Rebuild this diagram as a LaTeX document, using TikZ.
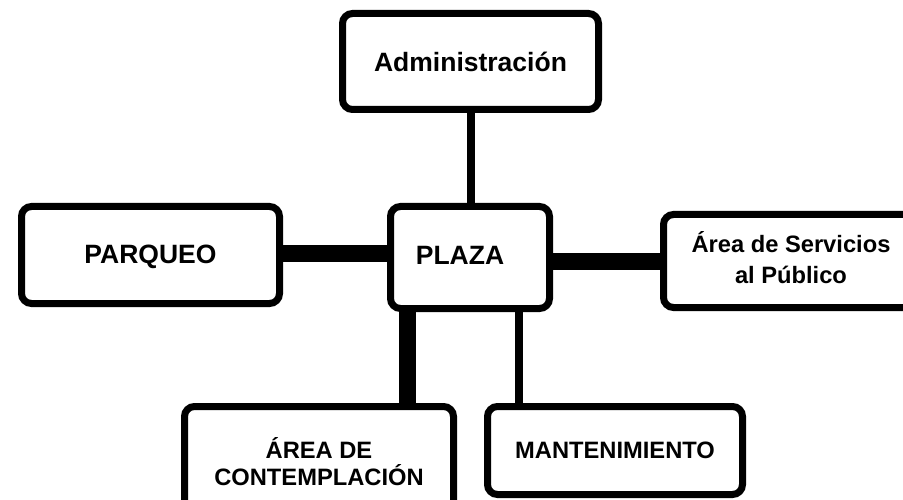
\documentclass[tikz,border=0pt]{standalone}
\usepackage{fontspec}
\setmainfont{Liberation Sans}
\begin{document}
\begin{tikzpicture}[x=1pt,y=-1pt,
  box/.style={draw=black, line width=7pt, rounded corners=10pt, fill=white, inner sep=0pt},
  bigtxt/.style={font=\bfseries\fontsize{26.5}{30}\selectfont},
  smalltxt/.style={font=\bfseries\fontsize{23.7}{31}\selectfont},
  thinconn/.style={line width=8pt},
  thickconn/.style={line width=17pt}]
\useasboundingbox (0,0) rectangle (903,500);
% connector guide coordinates
\coordinate (xadm) at (471,0);
\coordinate (yparq) at (0,253.5);
\coordinate (yserv) at (0,261.5);
\coordinate (xcont) at (407,0);
\coordinate (xmant) at (519,0);
% boxes
\node[box,bigtxt,minimum width=256pt,minimum height=96pt] (adm) at (470.5,61.5) {Administración};
\node[box,bigtxt,text depth=4pt,minimum width=159pt,minimum height=102pt] (plaza) at (470,257.5) {PLAZA\kern20pt};
\node[box,bigtxt,text depth=2pt,minimum width=258pt,minimum height=97pt] (parq) at (150.5,255) {PARQUEO};
\node[box,smalltxt,align=center,text depth=8pt,minimum width=255pt,minimum height=93pt] (serv) at (791,261) {Área de Servicios\\al Público};
\node[box,font=\bfseries\fontsize{23.7}{27}\selectfont,align=center,minimum width=269pt,minimum height=111pt] (cont) at (319,462) {ÁREA DE\\CONTEMPLACIÓN};
\node[box,smalltxt,minimum width=255pt,minimum height=88pt] (mant) at (615,450.5) {MANTENIMIENTO};
% connectors
\draw[thinconn] (adm.south -| xadm) -- (plaza.north -| xadm);
\draw[thickconn] (parq.east |- yparq) -- (plaza.west |- yparq);
\draw[thickconn] (plaza.east |- yserv) -- (serv.west |- yserv);
\draw[thickconn] (plaza.south -| xcont) -- (cont.north -| xcont);
\draw[thinconn] (plaza.south -| xmant) -- (mant.north -| xmant);
\end{tikzpicture}
\end{document}
